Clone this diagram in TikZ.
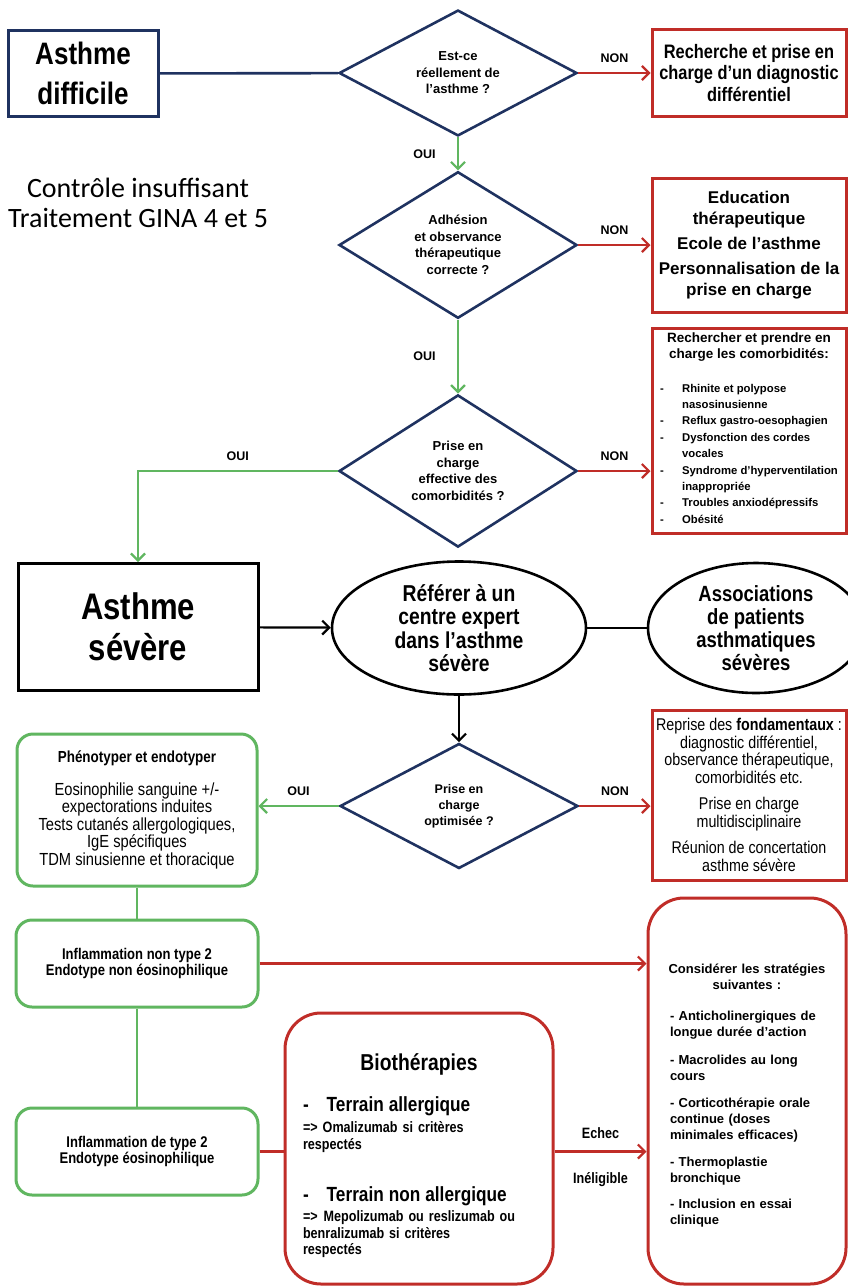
\documentclass[tikz,border=0pt]{standalone}
\usepackage{fontspec}
\setmainfont{Liberation Sans}
\newfontfamily\narrowfont[FakeStretch=0.84]{Liberation Sans}
\newfontfamily\calibfont{Carlito}
\usepackage{tikz}
\usetikzlibrary{shapes.geometric}
\usetikzlibrary{arrows.meta}
\tikzset{>={Straight Barb[length=7pt,width=14pt]}}

\definecolor{navyc}{RGB}{31,50,96}
\definecolor{redc}{RGB}{192,45,40}
\definecolor{greenc}{RGB}{96,182,96}

\tikzset{
  question/.style={diamond, draw=navyc, line width=2.6pt, minimum width=238pt,
    minimum height=125pt, inner sep=0pt, align=center,
    font=\bfseries\fontsize{13}{16.5}\selectfont},
  redbox/.style={draw=redc, line width=3pt, minimum width=194pt, inner sep=0pt, align=center},
  redround/.style={redbox, rounded corners=36pt},
  greenbox/.style={draw=greenc, line width=3pt, rounded corners=16pt,
    minimum width=240pt, inner sep=0pt, align=center},
  bigbox/.style={draw, line width=3pt, inner sep=0pt, align=center,
    font=\narrowfont\bfseries\fontsize{36}{41}\selectfont},
  bubble/.style={ellipse, draw, line width=2.6pt, inner sep=0pt, align=center,
    font=\narrowfont\bfseries\fontsize{23}{23.5}\selectfont},
  oui/.style={draw=greenc, line width=2.2pt},
  non/.style={draw=redc, line width=2.2pt},
  plain/.style={draw=black, line width=2.2pt},
  answer/.style={font=\bfseries\fontsize{12.5}{14}\selectfont},
}

\begin{document}
\begin{tikzpicture}[x=1pt,y=-1pt]
  \useasboundingbox (0,0) rectangle (848,1286);

  %% top part
  \node[bigbox, draw=navyc, minimum width=150pt, minimum height=86pt,
    font=\narrowfont\bfseries\fontsize{31}{40}\selectfont] (difficile) at (83,73.5) {Asthme\\difficile};
  \node[font=\calibfont\fontsize{28}{30}\selectfont, align=center] (ctrl) at (138,203)
    {Contrôle insuffisant\\Traitement GINA 4 et 5};

  \node[question] (q1) at (458,73) {Est-ce\\réellement de\\l’asthme ?};
  \node[question] (q2) at (458,245) {Adhésion\\et observance\\thérapeutique\\correcte ?};
  \node[question] (q3) at (458,471) {Prise en\\charge\\effective des\\comorbidités ?};

  \node[redbox, minimum height=87pt, font=\narrowfont\bfseries\fontsize{19.5}{21.5}\selectfont] (diag) at (749,73)
    {Recherche et prise en\\charge d’un diagnostic\\différentiel};
  \node[redbox, minimum height=134pt, font=\bfseries\fontsize{17}{21}\selectfont] (edu) at (749,245)
    {Education\\thérapeutique\\[4pt]Ecole de l’asthme\\[4pt]Personnalisation de la\\prise en charge};
  \node[redbox, minimum height=205pt, font=\bfseries\fontsize{13.5}{16}\selectfont] (comorb) at (749,430.5)
    {Rechercher et prendre en\\charge les comorbidités:\\[18pt]
    {\fontsize{11.3}{16.4}\selectfont
    \begin{tabular}{@{}p{22pt}@{}l@{}}
      -&Rhinite et polypose\\
       &nasosinusienne\\
      -&Reflux gastro-oesophagien\\
      -&Dysfonction des cordes\\
       &vocales\\
      -&Syndrome d’hyperventilation\\
       &inappropriée\\
      -&Troubles anxiodépressifs\\
      -&Obésité
    \end{tabular}}};

  \draw[draw=navyc, line width=2.6pt] (difficile) -- (q1); %% difficile q1
  \draw[non, ->] (q1) -- node[answer, above=6pt, black] {NON} (diag);
  \draw[oui, ->] (q1) -- node[answer, left=18pt, black] {OUI} (q2);
  \draw[non, ->] (q2) -- node[answer, above=6pt, black] {NON} (edu);
  \draw[oui, ->] (q2) -- node[answer, left=18pt, black] {OUI} (q3);
  \draw[non, ->] (q3.east) -- node[answer, above=6pt, black] {NON} (q3.east -| comorb.west);

  %% middle part
  \node[bigbox, minimum width=240pt, minimum height=127pt,
    font=\narrowfont\bfseries\fontsize{37}{41}\selectfont] (severe) at (138,627) {Asthme\\sévère};
  \node[bubble, minimum width=254pt, minimum height=133pt] (expert) at (459,628)
    {Référer à un\\centre expert\\dans l’asthme\\sévère};
  \node[bubble, minimum width=216pt, minimum height=130pt,
    font=\narrowfont\bfseries\fontsize{22}{23}\selectfont] (assoc) at (756,628)
    {Associations\\de patients\\asthmatiques\\sévères};
  \node[question, font=\bfseries\fontsize{12.5}{16}\selectfont] (q4) at (459,806)
    {Prise en\\charge\\optimisée ?};

  \draw[oui, ->] (q3.west) -| node[answer, above=6pt, pos=0.25, black] {OUI} (severe.north);
  \draw[plain, ->] (severe) -- (expert);
  \draw[plain] (expert) -- (assoc);
  \draw[plain, ->] (expert) -- (q4);

  %% lower part
  \node[greenbox, minimum height=152pt, font=\narrowfont\fontsize{17.5}{17.5}\selectfont] (pheno) at (137,810)
    {\textbf{\fontsize{16}{17.5}\selectfont Phénotyper et endotyper}\\[15pt]Eosinophilie sanguine +/-\\expectorations induites\\Tests cutanés allergologiques,\\IgE spécifiques\\TDM sinusienne et thoracique};
  \node[redbox, minimum height=170pt, font=\narrowfont\fontsize{17}{17.5}\selectfont] (fondam) at (749,795)
    {Reprise des \textbf{fondamentaux} :\\diagnostic différentiel,\\observance thérapeutique,\\comorbidités etc.\\[9pt]Prise en charge\\multidisciplinaire\\[9pt]Réunion de concertation\\asthme sévère};

  \draw[oui, ->] (q4.west) -- node[answer, above=6pt, black] {OUI} (q4.west -| pheno.east);
  \draw[non, ->] (q4.east) -- node[answer, above=6pt, black] {NON} (q4.east -| fondam.west);

  \node[greenbox, minimum width=242pt, minimum height=87pt, font=\narrowfont\bfseries\fontsize{15.5}{16.5}\selectfont] (nt2) at (137,963.5)
    {Inflammation non type 2\\Endotype non éosinophilique};
  \node[greenbox, minimum width=242pt, minimum height=87pt, font=\narrowfont\bfseries\fontsize{15.5}{16.5}\selectfont] (t2) at (137,1151.5)
    {Inflammation de type 2\\Endotype éosinophilique};

  \node[redround, minimum width=198pt, minimum height=386pt, text width=176pt, align=left,
    font=\bfseries\fontsize{13}{16}\selectfont] (strat) at (747,1091)
    {\parskip=0pt\leftskip=0pt\rightskip=0pt plus 1fil\relax
     \makebox[\linewidth]{Considérer les stratégies}\par
     \makebox[\linewidth]{suivantes :}\par\vspace{15pt}\leftskip=11pt
     - Anticholinergiques de\par longue durée d’action\par\vspace{12pt}
     - Macrolides au long\par cours\par\vspace{11pt}
     - Corticothérapie orale\par continue (doses\par minimales efficaces)\par\vspace{11pt}
     - Thermoplastie\par bronchique\par\vspace{10pt}
     - Inclusion en essai\par clinique\par\vspace{-10pt}\hrule height 0pt};

  \node[redround, minimum width=268pt, minimum height=271pt, text width=232pt, align=left,
    font=\narrowfont\bfseries\fontsize{15}{17}\selectfont] (bio) at (419,1148.5)
    {\parskip=0pt\rightskip=0pt plus 1fil\relax
     \fontsize{23}{26}\selectfont\makebox[\linewidth]{Biothérapies}\par\vspace{19pt}
     \fontsize{20.5}{22}\selectfont -\hspace{18pt}Terrain allergique\par\vspace{4pt}
     \fontsize{15}{17}\selectfont =>{} Omalizumab si critères\par respectés\par\vspace{30pt}
     \fontsize{20.5}{22}\selectfont -\hspace{18pt}Terrain non allergique\par\vspace{4pt}
     \fontsize{15}{16.3}\selectfont =>\hspace{6pt}Mepolizumab ou reslizumab ou\par
     benralizumab si critères\par respectés\par\vspace{-14pt}\hrule height 0pt};

  \draw[oui] (pheno) -- (nt2); %% pheno nt2
  \draw[oui] (nt2) -- (t2); %% nt2 t2
  \draw[non, ->] (nt2.east) -- (nt2.east -| strat.west);
  \draw[non] (t2.east) -- (t2.east -| bio.west);
  \draw[non, ->] (t2.east -| bio.east) -- node[answer, above=8pt, black, font=\narrowfont\bfseries\fontsize{15}{17}\selectfont] {Echec}
    node[answer, below=17pt, black, font=\narrowfont\bfseries\fontsize{15}{17}\selectfont] {Inéligible} (t2.east -| strat.west);

\end{tikzpicture}
\end{document}
